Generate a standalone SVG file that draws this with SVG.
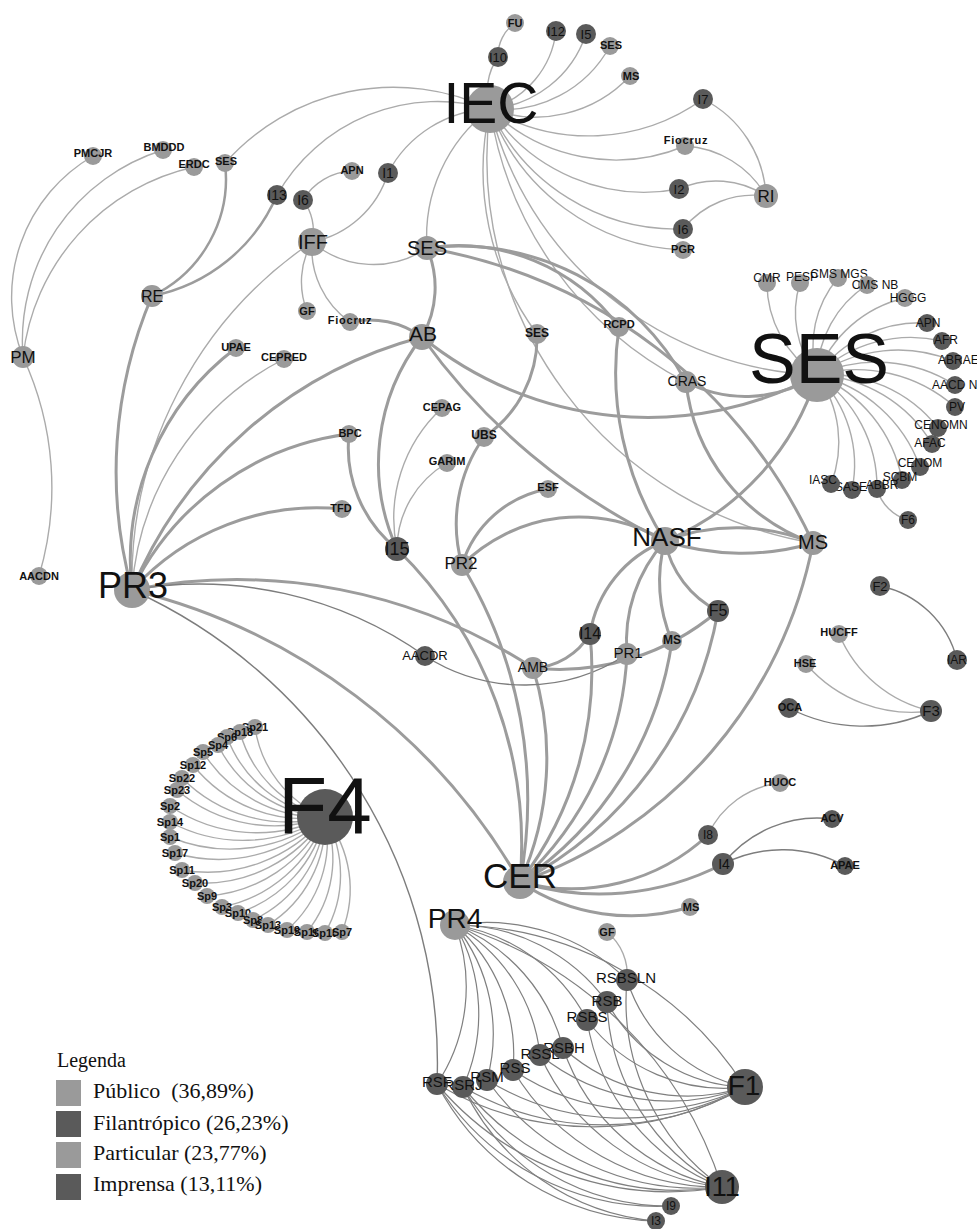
<svg xmlns="http://www.w3.org/2000/svg" width="977" height="1229" viewBox="0 0 977 1229">
<style>
.e{fill:none;stroke:#ababab;stroke-width:1.4}
.t{fill:none;stroke:#9c9c9c;stroke-width:3}
.d{fill:none;stroke:#7d7d7d;stroke-width:1.4}
.p{fill:none;stroke:#7f7f7f;stroke-width:1.2}
.l{fill:#9a9a9a}
.k{fill:#5a5a5a}
text{font-family:"Liberation Sans",Arial,sans-serif;fill:#111;text-anchor:middle}
.s{font-size:11px;font-weight:bold}
.s12{font-size:12px;font-weight:bold}
.r{font-size:12px}
.i{font-size:13px}
.lg{font-family:"Liberation Serif","Times New Roman",serif;font-size:22px;text-anchor:start}
</style>
<rect width="977" height="1229" fill="#fff"/>
<g id="edges">
<path class="e" d="M 498 57 A 40 40 0 0 1 515 23"/>
<path class="e" d="M 490 109 A 60 60 0 0 1 498 57"/>
<path class="e" d="M 490 109 A 92 92 0 0 0 556 31"/>
<path class="e" d="M 490 109 A 110 110 0 0 0 586 34"/>
<path class="e" d="M 490 109 A 122 122 0 0 0 610 46"/>
<path class="e" d="M 490 109 A 130 130 0 0 0 630 76"/>
<path class="e" d="M 490 109 A 195 195 0 0 0 703 99"/>
<path class="e" d="M 490 109 A 180 180 0 0 0 685 146"/>
<path class="e" d="M 490 109 A 185 185 0 0 0 679 189"/>
<path class="e" d="M 490 109 A 205 205 0 0 0 683 229"/>
<path class="e" d="M 490 109 A 215 215 0 0 0 683 250"/>
<path class="e" d="M 703 99 A 115 115 0 0 1 766 196"/>
<path class="e" d="M 685 146 A 100 100 0 0 1 766 196"/>
<path class="e" d="M 679 189 A 90 90 0 0 1 766 196"/>
<path class="e" d="M 683 229 A 90 90 0 0 1 766 196"/>
<path class="e" d="M 490 109 A 160 160 0 0 0 427 248"/>
<path class="e" d="M 490 109 A 225 225 0 0 0 225 163"/>
<path class="e" d="M 490 109 A 185 185 0 0 0 277 195"/>
<path class="e" d="M 490 109 A 120 120 0 0 0 388 173"/>
<path class="e" d="M 490 109 A 275 275 0 0 0 537 334"/>
<path class="e" d="M 490 109 A 390 390 0 0 0 813 543"/>
<path class="e" d="M 490 109 A 351 351 0 0 0 817 375"/>
<path class="e" d="M 490 109 A 370 370 0 0 0 686 382"/>
<path class="e" d="M 23 357 A 163 163 0 0 1 93 156"/>
<path class="e" d="M 23 357 A 200 200 0 0 1 163 150"/>
<path class="e" d="M 23 357 A 220 220 0 0 1 194 167"/>
<path class="e" d="M 23 357 A 310 310 0 0 1 39 576"/>
<path class="t" style="stroke-width:2.5" d="M 225 163 A 130 130 0 0 1 152 296"/>
<path class="t" style="stroke-width:2.5" d="M 277 195 A 172 172 0 0 1 152 296"/>
<path class="e" d="M 303 200 A 60 60 0 0 1 352 171"/>
<path class="e" d="M 303 200 A 50 50 0 0 1 312 242"/>
<path class="e" d="M 388 173 A 100 100 0 0 1 312 242"/>
<path class="e" d="M 312 242 A 95 95 0 0 0 427 248"/>
<path class="e" d="M 312 242 A 80 80 0 0 0 307 311"/>
<path class="e" d="M 312 242 A 90 90 0 0 0 350 322"/>
<path class="t" d="M 350 322 A 90 90 0 0 1 422 337"/>
<path class="e" d="M 312 242 A 409 409 0 0 0 132 590"/>
<path class="t" d="M 152 296 A 448 448 0 0 0 132 590"/>
<path class="t" d="M 427 248 A 100 100 0 0 1 422 337"/>
<path class="t" d="M 132 590 A 266 266 0 0 1 236 348"/>
<path class="e" d="M 132 590 A 280 280 0 0 1 284 359"/>
<path class="t" d="M 132 590 A 434 434 0 0 1 422 337"/>
<path class="t" d="M 132 590 A 280 280 0 0 1 349 434"/>
<path class="t" d="M 132 590 A 250 250 0 0 1 342 509"/>
<path class="t" d="M 132 590 A 540 540 0 0 1 533 668"/>
<path class="d" d="M 132 590 A 390 390 0 0 1 425 656"/>
<path class="t" d="M 132 590 A 615 615 0 0 1 520 882"/>
<path class="d" d="M 132 590 A 519 519 0 0 1 437 1084"/>
<path class="t" d="M 349 434 A 130 130 0 0 0 397 549"/>
<path class="t" d="M 422 337 A 206 206 0 0 0 397 549"/>
<path class="e" d="M 442 408 A 150 150 0 0 0 397 549"/>
<path class="e" d="M 447 463 A 100 100 0 0 0 397 549"/>
<path class="t" d="M 397 549 A 414 414 0 0 1 520 882"/>
<path class="t" d="M 462 565 A 450 450 0 0 1 520 882"/>
<path class="t" d="M 533 668 A 300 300 0 0 1 520 882"/>
<path class="t" d="M 422 337 A 358 358 0 0 0 817 375"/>
<path class="t" d="M 422 337 A 638 638 0 0 0 665 541"/>
<path class="t" d="M 537 334 A 120 120 0 0 1 484 437"/>
<path class="t" d="M 484 437 A 150 150 0 0 0 462 565"/>
<path class="t" d="M 548 489 A 110 110 0 0 0 462 565"/>
<path class="t" d="M 462 565 A 166 166 0 0 1 665 541"/>
<path class="t" d="M 427 248 A 258 258 0 0 1 686 382"/>
<path class="t" d="M 427 248 A 522 522 0 0 1 813 543"/>
<path class="t" d="M 427 248 A 200 200 0 0 1 619 327"/>
<path class="t" d="M 619 327 A 312 312 0 0 0 665 541"/>
<path class="t" d="M 686 382 A 192 192 0 0 0 813 543"/>
<path class="t" d="M 686 382 A 130 130 0 0 0 817 375"/>
<path class="t" d="M 665 541 A 263 263 0 0 0 817 375"/>
<path class="t" d="M 665 541 A 200 200 0 0 1 813 543"/>
<path class="t" d="M 665 541 A 250 250 0 0 0 813 543"/>
<path class="t" d="M 813 543 A 450 450 0 0 1 520 882"/>
<path class="t" d="M 665 541 A 120 120 0 0 0 590 634"/>
<path class="t" d="M 665 541 A 150 150 0 0 0 627 654"/>
<path class="t" d="M 665 541 A 150 150 0 0 0 672 641"/>
<path class="t" d="M 665 541 A 100 100 0 0 0 718 611"/>
<path class="t" d="M 533 668 A 70 70 0 0 0 590 634"/>
<path class="t" d="M 533 668 A 245 245 0 0 0 718 611"/>
<path class="d" d="M 425 656 A 185 185 0 0 0 627 654"/>
<path class="t" d="M 590 634 A 348 348 0 0 1 520 882"/>
<path class="t" d="M 627 654 A 330 330 0 0 1 520 882"/>
<path class="t" d="M 672 641 A 350 350 0 0 1 520 882"/>
<path class="t" d="M 718 611 A 380 380 0 0 1 520 882"/>
<path class="t" d="M 520 882 A 200 200 0 0 0 708 835"/>
<path class="t" d="M 520 882 A 270 270 0 0 0 723 864"/>
<path class="t" d="M 520 882 A 200 200 0 0 0 690 907"/>
<path class="e" d="M 708 835 A 90 90 0 0 1 780 783"/>
<path class="d" d="M 723 864 A 120 120 0 0 1 832 819"/>
<path class="d" d="M 723 864 A 130 130 0 0 1 845 866"/>
<path class="d" d="M 880 586 A 100 100 0 0 1 957 660"/>
<path class="e" d="M 839 634 A 130 130 0 0 0 931 711"/>
<path class="e" d="M 806 664 A 140 140 0 0 0 931 711"/>
<path class="d" d="M 789 708 A 160 160 0 0 0 931 711"/>
<path class="e" d="M 817 375 A 110 110 0 0 1 767 283"/>
<path class="e" d="M 817 375 A 100 100 0 0 1 800 283"/>
<path class="e" d="M 817 375 A 105 105 0 0 1 838 278"/>
<path class="e" d="M 817 375 A 110 110 0 0 1 867 285"/>
<path class="e" d="M 817 375 A 123 123 0 0 1 905 298"/>
<path class="e" d="M 817 375 A 128 128 0 0 1 927 323"/>
<path class="e" d="M 817 375 A 136 136 0 0 1 942 341"/>
<path class="e" d="M 817 375 A 144 144 0 0 1 953 361"/>
<path class="e" d="M 817 375 A 145 145 0 0 1 955 385"/>
<path class="e" d="M 817 375 A 149 149 0 0 1 955 407"/>
<path class="e" d="M 817 375 A 139 139 0 0 1 938 428"/>
<path class="e" d="M 817 375 A 141 141 0 0 1 932 444"/>
<path class="e" d="M 817 375 A 145 145 0 0 1 920 467"/>
<path class="e" d="M 817 375 A 142 142 0 0 1 902 480"/>
<path class="e" d="M 817 375 A 135 135 0 0 1 877 489"/>
<path class="e" d="M 817 375 A 126 126 0 0 1 852 490"/>
<path class="e" d="M 817 375 A 115 115 0 0 1 831 484"/>
<path class="e" d="M 877 489 A 45 45 0 0 0 908 520"/>
<path class="e" d="M 325 817 A 114 114 0 0 1 255 727"/>
<path class="e" d="M 325 817 A 120 120 0 0 1 240 732"/>
<path class="e" d="M 325 817 A 126 126 0 0 1 227 737"/>
<path class="e" d="M 325 817 A 129 129 0 0 1 218 745"/>
<path class="e" d="M 325 817 A 138 138 0 0 1 203 752"/>
<path class="e" d="M 325 817 A 142 142 0 0 1 193 765"/>
<path class="e" d="M 325 817 A 148 148 0 0 1 182 778"/>
<path class="e" d="M 325 817 A 150 150 0 0 1 177 790"/>
<path class="e" d="M 325 817 A 155 155 0 0 1 170 806"/>
<path class="e" d="M 325 817 A 155 155 0 0 1 170 822"/>
<path class="e" d="M 325 817 A 156 156 0 0 1 170 837"/>
<path class="e" d="M 325 817 A 154 154 0 0 1 175 853"/>
<path class="e" d="M 325 817 A 153 153 0 0 1 182 870"/>
<path class="e" d="M 325 817 A 146 146 0 0 1 195 883"/>
<path class="e" d="M 325 817 A 142 142 0 0 1 207 896"/>
<path class="e" d="M 325 817 A 137 137 0 0 1 222 907"/>
<path class="e" d="M 325 817 A 130 130 0 0 1 238 913"/>
<path class="e" d="M 325 817 A 126 126 0 0 1 253 920"/>
<path class="e" d="M 325 817 A 122 122 0 0 1 268 925"/>
<path class="e" d="M 325 817 A 119 119 0 0 1 287 930"/>
<path class="e" d="M 325 817 A 116 116 0 0 1 307 932"/>
<path class="e" d="M 325 817 A 116 116 0 0 1 325 933"/>
<path class="e" d="M 325 817 A 116 116 0 0 1 342 932"/>
<path class="p" d="M 455 925 A 200 200 0 0 1 627 980"/>
<path class="p" d="M 455 925 A 187 187 0 0 1 607 1002"/>
<path class="p" d="M 455 925 A 180 180 0 0 1 587 1020"/>
<path class="p" d="M 455 925 A 180 180 0 0 1 563 1048"/>
<path class="p" d="M 455 925 A 171 171 0 0 1 540 1055"/>
<path class="p" d="M 455 925 A 172 172 0 0 1 513 1070"/>
<path class="p" d="M 455 925 A 174 174 0 0 1 487 1080"/>
<path class="p" d="M 455 925 A 178 178 0 0 1 463 1087"/>
<path class="p" d="M 455 925 A 176 176 0 0 1 437 1084"/>
<path class="p" d="M 455 925 A 350 350 0 0 1 745 1087"/>
<path class="p" d="M 455 925 A 400 400 0 0 1 722 1187"/>
<path class="e" d="M 607 932 A 55 55 0 0 1 627 980"/>
<path class="p" d="M 627 980 A 159 159 0 0 0 745 1087"/>
<path class="p" d="M 607 1002 A 162 162 0 0 0 745 1087"/>
<path class="p" d="M 587 1020 A 172 172 0 0 0 745 1087"/>
<path class="p" d="M 563 1048 A 186 186 0 0 0 745 1087"/>
<path class="p" d="M 540 1055 A 207 207 0 0 0 745 1087"/>
<path class="p" d="M 513 1070 A 233 233 0 0 0 745 1087"/>
<path class="p" d="M 487 1080 A 258 258 0 0 0 745 1087"/>
<path class="p" d="M 463 1087 A 282 282 0 0 0 745 1087"/>
<path class="p" d="M 437 1084 A 308 308 0 0 0 745 1087"/>
<path class="p" d="M 627 980 A 228 228 0 0 0 722 1187"/>
<path class="p" d="M 607 1002 A 218 218 0 0 0 722 1187"/>
<path class="p" d="M 587 1020 A 215 215 0 0 0 722 1187"/>
<path class="p" d="M 563 1048 A 211 211 0 0 0 722 1187"/>
<path class="p" d="M 540 1055 A 225 225 0 0 0 722 1187"/>
<path class="p" d="M 513 1070 A 240 240 0 0 0 722 1187"/>
<path class="p" d="M 487 1080 A 258 258 0 0 0 722 1187"/>
<path class="p" d="M 463 1087 A 278 278 0 0 0 722 1187"/>
<path class="p" d="M 437 1084 A 303 303 0 0 0 722 1187"/>
<path class="p" d="M 437 1084 A 256 256 0 0 0 656 1221"/>
<path class="p" d="M 463 1087 A 235 235 0 0 0 656 1221"/>
<path class="p" d="M 437 1084 A 261 261 0 0 0 671 1206"/>
<path class="p" d="M 463 1087 A 239 239 0 0 0 671 1206"/>
</g>
<g id="n-IEC"><circle class="l" cx="490" cy="109" r="24"/><text x="491" y="123" style="font-size:57px">IEC</text></g>
<g id="n-FU"><circle class="l" cx="515" cy="23" r="9"/><text class="s" x="515" y="27">FU</text></g>
<g id="n-I10"><circle class="k" cx="498" cy="57" r="10"/><text class="i" x="498" y="62">I10</text></g>
<g id="n-I12"><circle class="k" cx="556" cy="31" r="10"/><text class="i" x="556" y="36">I12</text></g>
<g id="n-I5"><circle class="k" cx="586" cy="34" r="10"/><text class="i" x="586" y="39">I5</text></g>
<g id="n-SES-top"><circle class="l" cx="610" cy="46" r="9"/><text class="s" x="611" y="49">SES</text></g>
<g id="n-MS-top"><circle class="l" cx="630" cy="76" r="9"/><text class="s" x="631" y="80">MS</text></g>
<g id="n-I7"><circle class="k" cx="703" cy="99" r="10"/><text class="i" x="703" y="104">I7</text></g>
<g id="n-Fiocruz-1"><circle class="l" cx="685" cy="146" r="9"/><text class="s" x="686" y="144" style="letter-spacing:0.8px">Fiocruz</text></g>
<g id="n-I2"><circle class="k" cx="679" cy="189" r="10"/><text class="i" x="679" y="194">I2</text></g>
<g id="n-RI"><circle class="l" cx="766" cy="196" r="12"/><text x="766" y="202" style="font-size:17px">RI</text></g>
<g id="n-I6"><circle class="k" cx="683" cy="229" r="10"/><text class="i" x="683" y="234">I6</text></g>
<g id="n-PGR"><circle class="l" cx="683" cy="250" r="9"/><text class="s" x="683" y="253">PGR</text></g>
<g id="n-SES-mid"><circle class="l" cx="427" cy="248" r="12"/><text x="427" y="255" style="font-size:20px">SES</text></g>
<g id="n-PMCJR"><circle class="l" cx="93" cy="156" r="9"/><text class="s" x="93" y="157">PMCJR</text></g>
<g id="n-BMDDD"><circle class="l" cx="163" cy="150" r="9"/><text class="s" x="164" y="151">BMDDD</text></g>
<g id="n-ERDC"><circle class="l" cx="194" cy="167" r="9"/><text class="s" x="194" y="168">ERDC</text></g>
<g id="n-SES-left"><circle class="l" cx="225" cy="163" r="9"/><text class="s" x="226" y="165">SES</text></g>
<g id="n-I13"><circle class="k" cx="277" cy="195" r="10"/><text x="277" y="200" style="font-size:14px">I13</text></g>
<g id="n-I6-left"><circle class="k" cx="303" cy="200" r="10"/><text x="303" y="205" style="font-size:14px">I6</text></g>
<g id="n-APN-left"><circle class="l" cx="352" cy="171" r="9"/><text class="s" x="352" y="174">APN</text></g>
<g id="n-I1"><circle class="k" cx="388" cy="173" r="10"/><text x="388" y="178" style="font-size:14px">I1</text></g>
<g id="n-IFF"><circle class="l" cx="312" cy="242" r="14"/><text x="313" y="249" style="font-size:20px">IFF</text></g>
<g id="n-RE"><circle class="l" cx="152" cy="296" r="11"/><text x="152" y="302" style="font-size:16px">RE</text></g>
<g id="n-GF"><circle class="l" cx="307" cy="311" r="9"/><text class="s" x="307" y="315">GF</text></g>
<g id="n-Fiocruz-2"><circle class="l" cx="350" cy="322" r="9"/><text class="s" x="350" y="324" style="letter-spacing:0.8px">Fiocruz</text></g>
<g id="n-AB"><circle class="l" cx="422" cy="337" r="13"/><text x="423" y="341" style="font-size:21px">AB</text></g>
<g id="n-PM"><circle class="l" cx="23" cy="357" r="11"/><text x="23" y="363" style="font-size:17px">PM</text></g>
<g id="n-UPAE"><circle class="l" cx="236" cy="348" r="9"/><text class="s" x="236" y="351">UPAE</text></g>
<g id="n-CEPRED"><circle class="l" cx="284" cy="359" r="9"/><text class="s" x="284" y="361">CEPRED</text></g>
<g id="n-SES-small"><circle class="l" cx="537" cy="334" r="10"/><text class="s12" x="537" y="337">SES</text></g>
<g id="n-RCPD"><circle class="l" cx="619" cy="327" r="10"/><text class="s" x="619" y="328">RCPD</text></g>
<g id="n-CRAS"><circle class="l" cx="686" cy="382" r="11"/><text x="687" y="386" style="font-size:14px">CRAS</text></g>
<g id="n-CEPAG"><circle class="l" cx="442" cy="408" r="9"/><text class="s" x="442" y="411">CEPAG</text></g>
<g id="n-UBS"><circle class="l" cx="484" cy="437" r="10"/><text class="s12" x="484" y="439">UBS</text></g>
<g id="n-BPC"><circle class="l" cx="349" cy="434" r="9"/><text class="s" x="350" y="437">BPC</text></g>
<g id="n-GARIM"><circle class="l" cx="447" cy="463" r="9"/><text class="s" x="447" y="465">GARIM</text></g>
<g id="n-ESF"><circle class="l" cx="548" cy="489" r="9"/><text class="s" x="548" y="491">ESF</text></g>
<g id="n-TFD"><circle class="l" cx="342" cy="509" r="9"/><text class="s" x="341" y="512">TFD</text></g>
<g id="n-I15"><circle class="k" cx="397" cy="549" r="12"/><text x="397" y="555" style="font-size:18px">I15</text></g>
<g id="n-PR2"><circle class="l" cx="462" cy="565" r="11"/><text x="461" y="569" style="font-size:17px">PR2</text></g>
<g id="n-NASF"><circle class="l" cx="665" cy="541" r="14"/><text x="667" y="546" style="font-size:26px">NASF</text></g>
<g id="n-MS-right"><circle class="l" cx="813" cy="543" r="12"/><text x="813" y="549" style="font-size:20px">MS</text></g>
<g id="n-SES"><circle class="l" cx="817" cy="375" r="27"/><text x="819" y="383" style="font-size:70px">SES</text></g>
<g id="n-PR3"><circle class="l" cx="132" cy="590" r="18"/><text x="133" y="598" style="font-size:36px">PR3</text></g>
<g id="n-AACDN"><circle class="l" cx="39" cy="576" r="9"/><text class="s" x="39" y="580">AACDN</text></g>
<g id="n-AACDR"><circle class="k" cx="425" cy="656" r="10"/><text x="425" y="660" style="font-size:13px">AACDR</text></g>
<g id="n-AMB"><circle class="l" cx="533" cy="668" r="11"/><text x="533" y="672" style="font-size:14px">AMB</text></g>
<g id="n-I14"><circle class="k" cx="590" cy="634" r="11"/><text x="590" y="639" style="font-size:16px">I14</text></g>
<g id="n-PR1"><circle class="l" cx="627" cy="654" r="11"/><text x="628" y="658" style="font-size:15px">PR1</text></g>
<g id="n-MS-low"><circle class="l" cx="672" cy="641" r="10"/><text class="s12" x="672" y="644">MS</text></g>
<g id="n-F5"><circle class="k" cx="718" cy="611" r="11"/><text x="718" y="616" style="font-size:16px">F5</text></g>
<g id="n-F2"><circle class="k" cx="880" cy="586" r="10"/><text class="i" x="880" y="591">F2</text></g>
<g id="n-HUCFF"><circle class="l" cx="839" cy="634" r="9"/><text class="s" x="839" y="636">HUCFF</text></g>
<g id="n-HSE"><circle class="l" cx="806" cy="664" r="9"/><text class="s" x="805" y="667">HSE</text></g>
<g id="n-OCA"><circle class="k" cx="789" cy="708" r="10"/><text class="s" x="790" y="711">OCA</text></g>
<g id="n-F3"><circle class="k" cx="931" cy="711" r="11"/><text x="931" y="716" style="font-size:15px">F3</text></g>
<g id="n-IAR"><circle class="k" cx="957" cy="660" r="10"/><text class="r" x="957" y="664">IAR</text></g>
<g id="n-SES-sat">
<circle class="l" cx="767" cy="283" r="9"/><text class="r" x="767" y="282">CMR</text>
<circle class="l" cx="800" cy="283" r="9"/><text class="r" x="802" y="281">PESP</text>
<circle class="l" cx="838" cy="278" r="9"/><text class="r" x="839" y="278">CMS MGS</text>
<circle class="l" cx="867" cy="285" r="9"/><text class="r" x="875" y="289">CMS NB</text>
<circle class="l" cx="905" cy="298" r="9"/><text class="r" x="908" y="302">HGGG</text>
<circle class="k" cx="927" cy="323" r="9"/><text class="r" x="928" y="327">APN</text>
<circle class="k" cx="942" cy="341" r="9"/><text class="r" x="946" y="344">AFR</text>
<circle class="k" cx="953" cy="361" r="9"/><text class="r" x="938" y="364" style="text-anchor:start">ABRAE</text>
<circle class="k" cx="955" cy="385" r="9"/><text class="r" x="932" y="389" style="text-anchor:start">AACD N</text>
<circle class="k" cx="955" cy="407" r="9"/><text class="r" x="957" y="411">PV</text>
<circle class="k" cx="938" cy="428" r="9"/><text class="r" x="941" y="429">CENOMN</text>
<circle class="k" cx="932" cy="444" r="9"/><text class="r" x="930" y="447">AFAC</text>
<circle class="k" cx="920" cy="467" r="9"/><text class="r" x="920" y="467">CENOM</text>
<circle class="k" cx="902" cy="480" r="9"/><text class="r" x="900" y="481">SCBM</text>
<circle class="k" cx="877" cy="489" r="9"/><text class="r" x="882" y="489">ABBR</text>
<circle class="k" cx="852" cy="490" r="9"/><text class="r" x="851" y="491">SASE</text>
<circle class="k" cx="831" cy="484" r="9"/><text class="r" x="823" y="484">IASC</text>
<circle class="k" cx="908" cy="520" r="9"/><text class="r" x="908" y="524">F6</text>
</g>
<g id="n-F4"><circle class="k" cx="325" cy="817" r="28"/><text x="325" y="833" style="font-size:80px">F4</text></g>
<g id="n-Sp">
<circle class="l" cx="255" cy="727" r="8"/><text class="s" x="255" y="731">Sp21</text>
<circle class="l" cx="240" cy="732" r="8"/><text class="s" x="240" y="736">Sp18</text>
<circle class="l" cx="227" cy="737" r="8"/><text class="s" x="227" y="741">Sp6</text>
<circle class="l" cx="218" cy="745" r="8"/><text class="s" x="218" y="749">Sp4</text>
<circle class="l" cx="203" cy="752" r="8"/><text class="s" x="203" y="756">Sp5</text>
<circle class="l" cx="193" cy="765" r="8"/><text class="s" x="193" y="769">Sp12</text>
<circle class="l" cx="182" cy="778" r="8"/><text class="s" x="182" y="782">Sp22</text>
<circle class="l" cx="177" cy="790" r="8"/><text class="s" x="177" y="794">Sp23</text>
<circle class="l" cx="170" cy="806" r="8"/><text class="s" x="170" y="810">Sp2</text>
<circle class="l" cx="170" cy="822" r="8"/><text class="s" x="170" y="826">Sp14</text>
<circle class="l" cx="170" cy="837" r="8"/><text class="s" x="170" y="841">Sp1</text>
<circle class="l" cx="175" cy="853" r="8"/><text class="s" x="175" y="857">Sp17</text>
<circle class="l" cx="182" cy="870" r="8"/><text class="s" x="182" y="874">Sp11</text>
<circle class="l" cx="195" cy="883" r="8"/><text class="s" x="195" y="887">Sp20</text>
<circle class="l" cx="207" cy="896" r="8"/><text class="s" x="207" y="900">Sp9</text>
<circle class="l" cx="222" cy="907" r="8"/><text class="s" x="222" y="911">Sp3</text>
<circle class="l" cx="238" cy="913" r="8"/><text class="s" x="238" y="917">Sp10</text>
<circle class="l" cx="253" cy="920" r="8"/><text class="s" x="253" y="924">Sp8</text>
<circle class="l" cx="268" cy="925" r="8"/><text class="s" x="268" y="929">Sp13</text>
<circle class="l" cx="287" cy="930" r="8"/><text class="s" x="287" y="934">Sp19</text>
<circle class="l" cx="307" cy="932" r="8"/><text class="s" x="307" y="936">Sp16</text>
<circle class="l" cx="325" cy="933" r="8"/><text class="s" x="325" y="937">Sp15</text>
<circle class="l" cx="342" cy="932" r="8"/><text class="s" x="342" y="936">Sp7</text>
</g>
<g id="n-CER"><circle class="l" cx="520" cy="882" r="17"/><text x="520" y="888" style="font-size:35px">CER</text></g>
<g id="n-HUOC"><circle class="l" cx="780" cy="783" r="9"/><text class="s" x="780" y="786">HUOC</text></g>
<g id="n-I8"><circle class="k" cx="708" cy="835" r="10"/><text class="r" x="708" y="839">I8</text></g>
<g id="n-ACV"><circle class="k" cx="832" cy="819" r="9"/><text class="s" x="832" y="822">ACV</text></g>
<g id="n-I4"><circle class="k" cx="723" cy="864" r="11"/><text x="724" y="869" style="font-size:14px">I4</text></g>
<g id="n-APAE"><circle class="k" cx="845" cy="866" r="9"/><text class="s" x="845" y="869">APAE</text></g>
<g id="n-MS-bottom"><circle class="l" cx="690" cy="907" r="9"/><text class="s" x="691" y="911">MS</text></g>
<g id="n-PR4"><circle class="l" cx="455" cy="925" r="15"/><text x="455" y="928" style="font-size:28px">PR4</text></g>
<g id="n-GF-bottom"><circle class="l" cx="607" cy="932" r="9"/><text class="s" x="607" y="936">GF</text></g>
<g id="n-RS">
<circle class="k" cx="627" cy="980" r="11"/><text x="626" y="983" style="font-size:15px">RSBSLN</text>
<circle class="k" cx="607" cy="1002" r="11"/><text x="607" y="1006" style="font-size:15px">RSB</text>
<circle class="k" cx="587" cy="1020" r="11"/><text x="587" y="1022" style="font-size:15px">RSBS</text>
<circle class="k" cx="563" cy="1048" r="11"/><text x="564" y="1053" style="font-size:15px">RSBH</text>
<circle class="k" cx="540" cy="1055" r="11"/><text x="540" y="1059" style="font-size:15px">RSSL</text>
<circle class="k" cx="513" cy="1070" r="11"/><text x="515" y="1073" style="font-size:15px">RSS</text>
<circle class="k" cx="487" cy="1080" r="11"/><text x="487" y="1082" style="font-size:15px">RSM</text>
<circle class="k" cx="463" cy="1087" r="11"/><text x="463" y="1090" style="font-size:15px">RSRJ</text>
<circle class="k" cx="437" cy="1084" r="11"/><text x="437" y="1087" style="font-size:15px">RSF</text>
</g>
<g id="n-F1"><circle class="k" cx="745" cy="1087" r="18"/><text x="744" y="1095" style="font-size:28px">F1</text></g>
<g id="n-I11"><circle class="k" cx="722" cy="1187" r="17"/><text x="722" y="1196" style="font-size:27px">I11</text></g>
<g id="n-I9"><circle class="k" cx="671" cy="1206" r="9"/><text class="r" x="671" y="1210">I9</text></g>
<g id="n-I3"><circle class="k" cx="656" cy="1221" r="9"/><text class="r" x="656" y="1225">I3</text></g>
<g id="legend">
<text class="lg" x="57" y="1067" style="font-size:20px">Legenda</text>
<rect x="56" y="1080" width="25" height="26" fill="#9a9a9a"/>
<text class="lg" x="93" y="1098">Público&#160; (36,89%)</text>
<rect x="56" y="1111" width="25" height="26" fill="#5a5a5a"/>
<text class="lg" x="93" y="1130">Filantrópico (26,23%)</text>
<rect x="56" y="1142" width="25" height="26" fill="#9a9a9a"/>
<text class="lg" x="93" y="1160">Particular (23,77%)</text>
<rect x="56" y="1174" width="25" height="26" fill="#5a5a5a"/>
<text class="lg" x="93" y="1191">Imprensa (13,11%)</text>
</g>
</svg>
